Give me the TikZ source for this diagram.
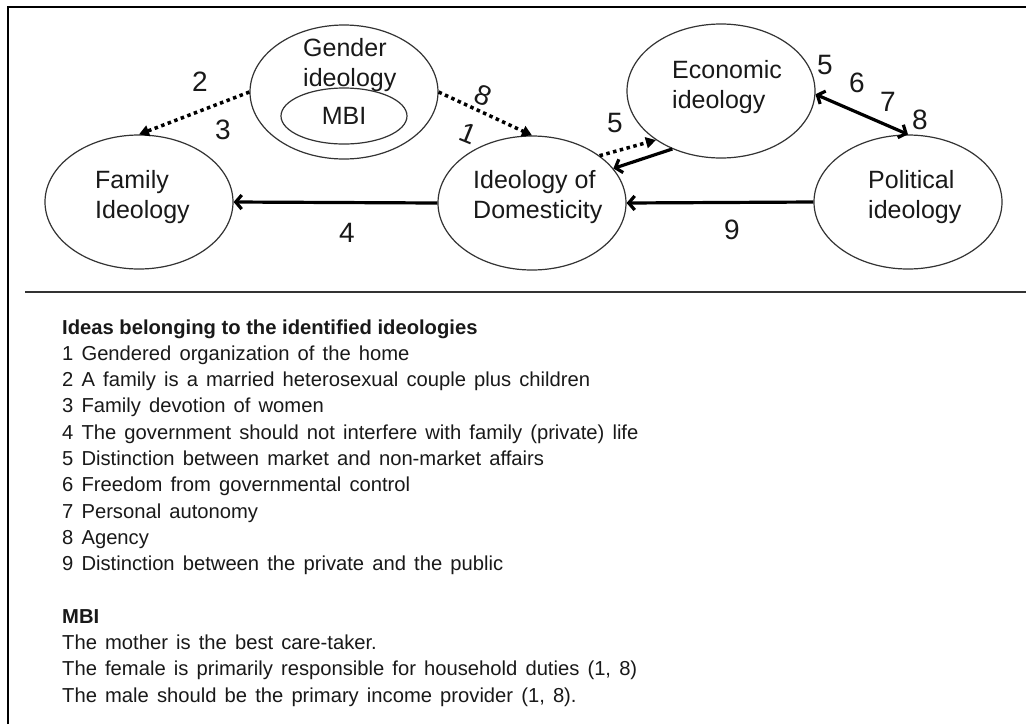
\documentclass[tikz,border=0pt]{standalone}
\usepackage{fontspec}
\setmainfont{Liberation Sans}
\newfontfamily\listfont[WordSpace=1.45]{Liberation Sans}
\usetikzlibrary{shapes.geometric,arrows.meta}
\begin{document}
\begin{tikzpicture}[x=1pt,y=-1pt,
 ell/.style={draw=black!80,line width=1.2pt,ellipse,minimum width=188pt,minimum height=134pt,inner sep=0pt},
 etxt/.style={anchor=base west,inner sep=0pt,text=black!90,font=\fontsize{25}{30}\selectfont},
 num/.style={inner sep=0pt,text=black!90,font=\fontsize{28}{32}\selectfont},
 li/.style={anchor=base west,inner sep=0pt,text=black!90,font=\listfont\fontsize{20.2}{24}\selectfont},
 lib/.style={anchor=base west,inner sep=0pt,text=black!90,font=\fontsize{20.2}{24}\selectfont\bfseries},
 dotarrow/.style={line width=3.5pt,dash pattern=on 3.5pt off 3.5pt,-{Triangle[length=10pt,width=11pt]}},
 solarrow/.style={line width=3.2pt,-{Straight Barb[length=6pt,width=14pt]}},
 bothsol/.style={line width=3.2pt,{Straight Barb[length=6pt,width=14pt]}-{Straight Barb[length=6pt,width=14pt]}},
]
\useasboundingbox (0,0) rectangle (1026,724);
\fill[white] (0,0) rectangle (1026,724);
% frame
\draw[line width=2.5pt] (8,724) -- (8,7) -- (1026,7);
\draw[line width=1.5pt,black!80] (25,292) -- (1026,292);
% ellipses
\node[ell] (fam) at (139,202) {};
\node[ell] (gen) at (344,92) {};
\node[ell,minimum width=126pt,minimum height=56pt,text=black!90,font=\fontsize{25}{30}\selectfont] (mbi) at (344,116) {MBI};
\node[ell] (dom) at (532,203) {};
\node[ell] (eco) at (721,91) {};
\node[ell] (pol) at (908,202) {};
% ellipse texts
\node[etxt] (famA) at (95,188) {Family};
\node[etxt] (famB) at (95,218) {Ideology};
\node[etxt] (genA) at (303,56) {Gender};
\node[etxt] (genB) at (303,86) {ideology};
\node[etxt] (domA) at (473,188) {Ideology of};
\node[etxt] (domB) at (473,218) {Domesticity};
\node[etxt] (ecoA) at (672,78) {Economic};
\node[etxt] (ecoB) at (672,108) {ideology};
\node[etxt] (polA) at (868,188) {Political};
\node[etxt] (polB) at (868,218) {ideology};
% connectors
\draw[dotarrow] (gen.west) -- (fam.north);
\draw[dotarrow] (gen.east) -- (dom.north);
\draw[dotarrow] (dom.35) -- (eco.217);
\draw[solarrow] (eco.230) -- (dom.23);
\draw[bothsol] (eco.-2) -- (pol.north);
\draw[solarrow] (pol.west) -- (dom.east);
\draw[solarrow] (dom.west) -- (fam.east);
% numbers
\node[num] (n2) at (200,82) {2};
\node[num] (n3) at (223,130) {3};
\node[num,rotate=-22] (n8a) at (483,95) {8};
\node[num,rotate=-22] (n1) at (468,133) {1};
\node[num] (n5a) at (615,123) {5};
\node[num] (n5b) at (825,65) {5};
\node[num] (n6) at (857,83) {6};
\node[num] (n7) at (888,102) {7};
\node[num] (n8b) at (920,120) {8};
\node[num] (n9) at (732,230) {9};
\node[num] (n4) at (347,233) {4};
% list
\node[lib] (l0) at (62,334) {Ideas belonging to the identified ideologies};
\node[li] (l1) at (62,360.3) {1 Gendered organization of the home};
\node[li] (l2) at (62,386.6) {2 A family is a married heterosexual couple plus children};
\node[li] (l3) at (62,412.9) {3 Family devotion of women};
\node[li] (l4) at (62,439.2) {4 The government should not interfere with family (private) life};
\node[li] (l5) at (62,465.5) {5 Distinction between market and non-market affairs};
\node[li] (l6) at (62,491.8) {6 Freedom from governmental control};
\node[li] (l7) at (62,518.1) {7 Personal autonomy};
\node[li] (l8) at (62,544.4) {8 Agency};
\node[li] (l9) at (62,570.7) {9 Distinction between the private and the public};
\node[lib] (m0) at (62,623.3) {MBI};
\node[li] (m1) at (62,649.6) {The mother is the best care-taker.};
\node[li] (m2) at (62,675.9) {The female is primarily responsible for household duties (1, 8)};
\node[li] (m3) at (62,702.2) {The male should be the primary income provider (1, 8).};
\end{tikzpicture}
\end{document}
